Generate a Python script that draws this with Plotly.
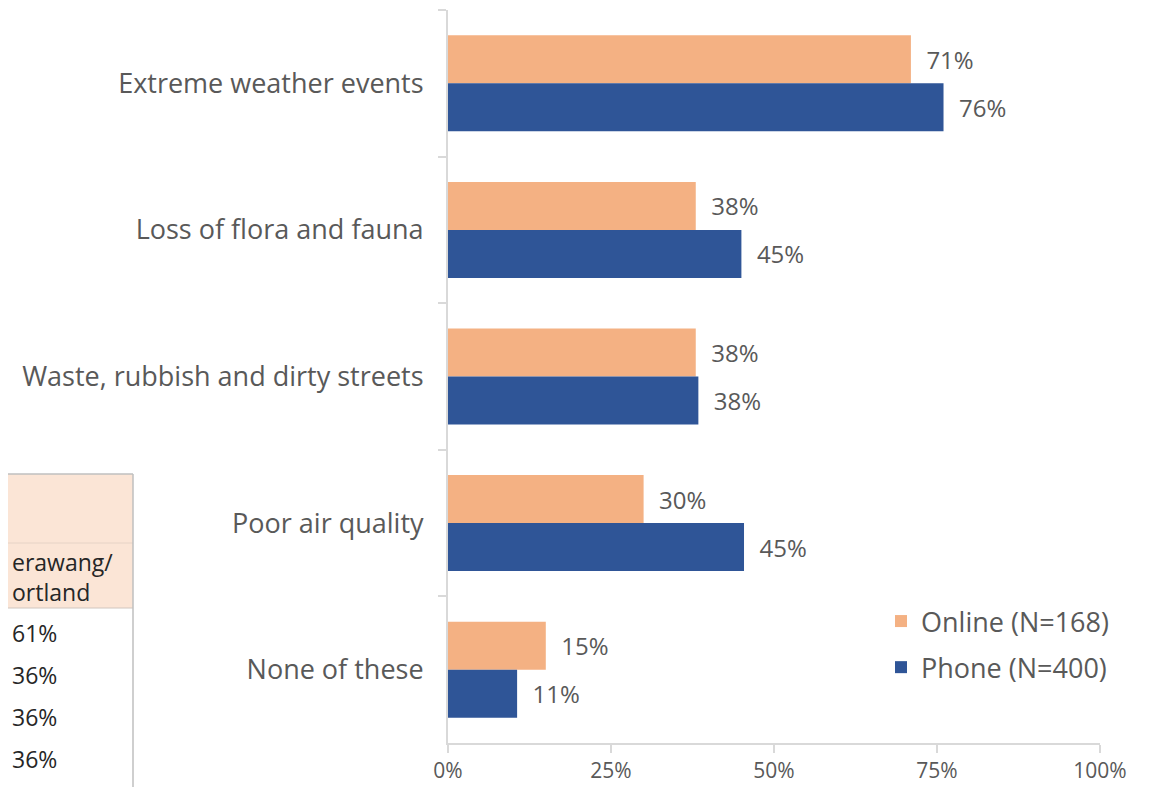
import plotly.graph_objects as go

W, H = 1157, 787

categories = ["Extreme weather events", "Loss of flora and fauna",
              "Waste, rubbish and dirty streets", "Poor air quality", "None of these"]
online = [71, 38, 38, 30, 15]
phone = [76, 45, 38.4, 45.4, 10.6]
online_labels = ["71%", "38%", "38%", "30%", "15%"]
phone_labels = ["76%", "45%", "38%", "45%", "11%"]
series_names = ["Online (N=168)", "Phone (N=400)"]
tick_vals = [0, 25, 50, 75, 100]
tick_text = ["0%", "25%", "50%", "75%", "100%"]

# partial table visible at left edge
table_header = "erawang/<br>ortland"
table_values = ["61%", "36%", "36%", "36%"]

ORANGE = "#F4B183"
BLUE = "#2F5597"
GREY = "#595959"
LINE = "#D9D9D9"
FONT = "Open Sans"
OFF = 8  # page body margin


def px(x):
    return (x - OFF) / W


def py(y):
    return 1 - (y - OFF) / H


fig = go.Figure()
for name, vals, labels, col in [(series_names[0], online, online_labels, ORANGE),
                                (series_names[1], phone, phone_labels, BLUE)]:
    fig.add_trace(go.Bar(
        y=categories, x=vals, orientation="h", name=name, legendgroup=name,
        marker=dict(color=col, line=dict(width=0)),
        text=labels, textposition="outside", cliponaxis=False,
        textfont=dict(size=24, color=GREY, family=FONT),
        texttemplate="  %{text}",
    ))

shapes = [
    dict(type="rect", xref="paper", yref="paper", x0=px(-2), x1=px(133), y0=py(608), y1=py(474),
         fillcolor="#FBE5D6", line=dict(width=0), layer="below"),
    dict(type="line", xref="paper", yref="paper", x0=px(-2), x1=px(133), y0=py(474), y1=py(474),
         line=dict(color="#BFBFBF", width=1.5)),
    dict(type="line", xref="paper", yref="paper", x0=px(-2), x1=px(133), y0=py(543), y1=py(543),
         line=dict(color="#E6D3C6", width=1)),
    dict(type="line", xref="paper", yref="paper", x0=px(-2), x1=px(133), y0=py(608), y1=py(608),
         line=dict(color="#D0C5BE", width=1)),
    dict(type="line", xref="paper", yref="paper", x0=px(133), x1=px(133), y0=py(474), y1=py(800),
         line=dict(color="#BFBFBF", width=1.5)),
]

annotations = [dict(text=table_header, xref="paper", yref="paper", x=px(10), y=py(577),
                    xanchor="left", yanchor="middle", align="left", showarrow=False,
                    font=dict(size=23, color="#262626", family=FONT))]
for i, txt in enumerate(table_values):
    annotations.append(dict(text=txt, xref="paper", yref="paper", x=px(10), y=py(633 + 42 * i),
                            xanchor="left", yanchor="middle", showarrow=False,
                            font=dict(size=23, color="#262626", family=FONT)))

fig.update_layout(
    width=W, height=H,
    margin=dict(l=0, r=0, t=0, b=0, autoexpand=False),
    paper_bgcolor="white", plot_bgcolor="white",
    barmode="group", bargap=0.345, bargroupgap=0,
    font=dict(family=FONT, color=GREY, size=24),
    shapes=shapes, annotations=annotations,
    showlegend=True,
    legend=dict(x=px(881), y=py(597), xanchor="left", yanchor="top",
                font=dict(size=27, color=GREY, family=FONT),
                bgcolor="rgba(0,0,0,0)", itemwidth=30, tracegroupgap=8),
    xaxis=dict(domain=[px(448), px(1100)], range=[0, 100], tickvals=tick_vals, ticktext=tick_text,
               showgrid=False, zeroline=False, showline=True, linecolor=LINE, linewidth=2,
               ticks="outside", ticklen=8, tickcolor=LINE, tickwidth=2,
               tickfont=dict(size=21, color=GREY, family=FONT)),
    yaxis=dict(domain=[py(743), py(10)], autorange="reversed", showgrid=False, zeroline=False,
               showline=True, linecolor=LINE, linewidth=2,
               ticks="outside", tickson="boundaries", ticklen=8, tickcolor=LINE, tickwidth=2,
               ticklabelstandoff=17,
               tickfont=dict(size=27, color=GREY, family=FONT)),
)

fig.write_html("out.html")
